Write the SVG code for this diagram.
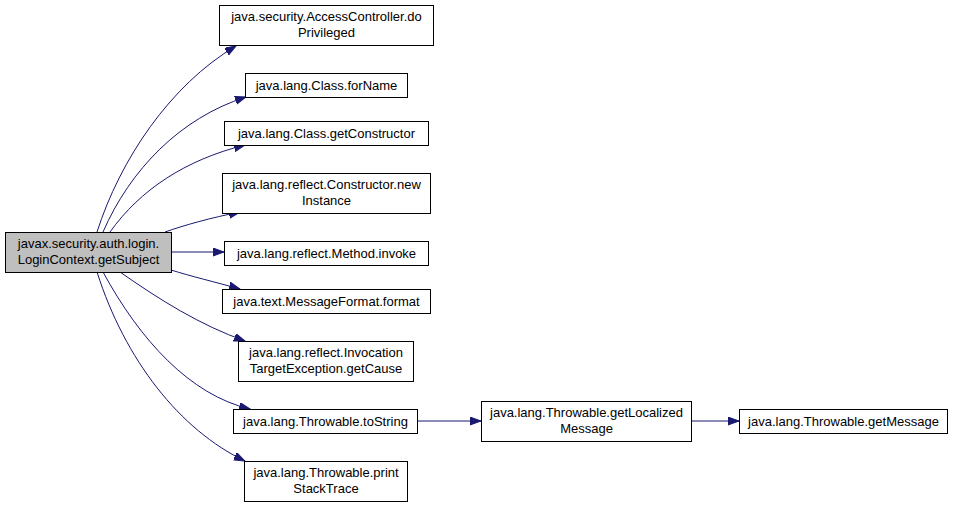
<svg xmlns="http://www.w3.org/2000/svg" width="955" height="505" viewBox="0 0 955 505">
<defs>
<style>
.n rect{fill:#fff;stroke:#000;stroke-width:1}
.n.m rect{fill:#bfbfbf}
.n text{font-family:"Liberation Sans",Arial,sans-serif;font-size:13px;fill:#000;text-anchor:middle}
.e path{fill:none;stroke:#191970;stroke-width:1;marker-end:url(#a)}
</style>
<marker id="a" markerWidth="13" markerHeight="10" refX="11" refY="4" orient="auto" markerUnits="userSpaceOnUse">
<path d="M0,0 L11,4 L0,8 z" fill="#191970" stroke="#191970"/>
</marker>
</defs>
<rect width="955" height="505" fill="#fff"/>
<g id="edges" class="e">
<path d="M97,232 C120,160 170,85 236,46"/>
<path d="M103,232 C130,170 180,118 246,97"/>
<path d="M110,232 C140,190 185,160 245,145"/>
<path d="M165,232 C185,225 210,218 240,212"/>
<path d="M171,252 L224,252"/>
<path d="M171,270 C190,276 215,282 240,289"/>
<path d="M120,272 C160,300 200,325 245,341"/>
<path d="M103,272 C140,340 190,395 250,409"/>
<path d="M97,272 C125,360 180,430 245,461"/>
<path d="M417,421 L481,421"/>
<path d="M691,421 L739,421"/>
</g>
<g id="n0" class="n m"><rect x="5.5" y="232.5" width="166" height="40"/><text x="88.5" y="248">javax.security.auth.login.</text><text x="88.5" y="264">LoginContext.getSubject</text></g>
<g id="n1" class="n"><rect x="219.5" y="5.5" width="214" height="40"/><text x="326.5" y="21">java.security.AccessController.do</text><text x="326.5" y="37">Privileged</text></g>
<g id="n2" class="n"><rect x="245.5" y="73.5" width="162" height="24"/><text x="326.5" y="90">java.lang.Class.forName</text></g>
<g id="n3" class="n"><rect x="224.5" y="121.5" width="204" height="24"/><text x="326.5" y="138">java.lang.Class.getConstructor</text></g>
<g id="n4" class="n"><rect x="222.5" y="173.5" width="208" height="40"/><text x="326.5" y="189">java.lang.reflect.Constructor.new</text><text x="326.5" y="205">Instance</text></g>
<g id="n5" class="n"><rect x="224.5" y="241.5" width="204" height="24"/><text x="326.5" y="258">java.lang.reflect.Method.invoke</text></g>
<g id="n6" class="n"><rect x="222.5" y="289.5" width="208" height="24"/><text x="326.5" y="306">java.text.MessageFormat.format</text></g>
<g id="n7" class="n"><rect x="238.5" y="341.5" width="175" height="40"/><text x="326" y="357">java.lang.reflect.Invocation</text><text x="326" y="373">TargetException.getCause</text></g>
<g id="n8" class="n"><rect x="233.5" y="409.5" width="184" height="24"/><text x="325.5" y="426">java.lang.Throwable.toString</text></g>
<g id="n9" class="n"><rect x="244.5" y="461.5" width="163" height="40"/><text x="326" y="477">java.lang.Throwable.print</text><text x="326" y="493">StackTrace</text></g>
<g id="n10" class="n"><rect x="481.5" y="401.5" width="210" height="40"/><text x="586.5" y="417">java.lang.Throwable.getLocalized</text><text x="586.5" y="433">Message</text></g>
<g id="n11" class="n"><rect x="739.5" y="409.5" width="208" height="24"/><text x="843.5" y="426">java.lang.Throwable.getMessage</text></g>
</svg>
